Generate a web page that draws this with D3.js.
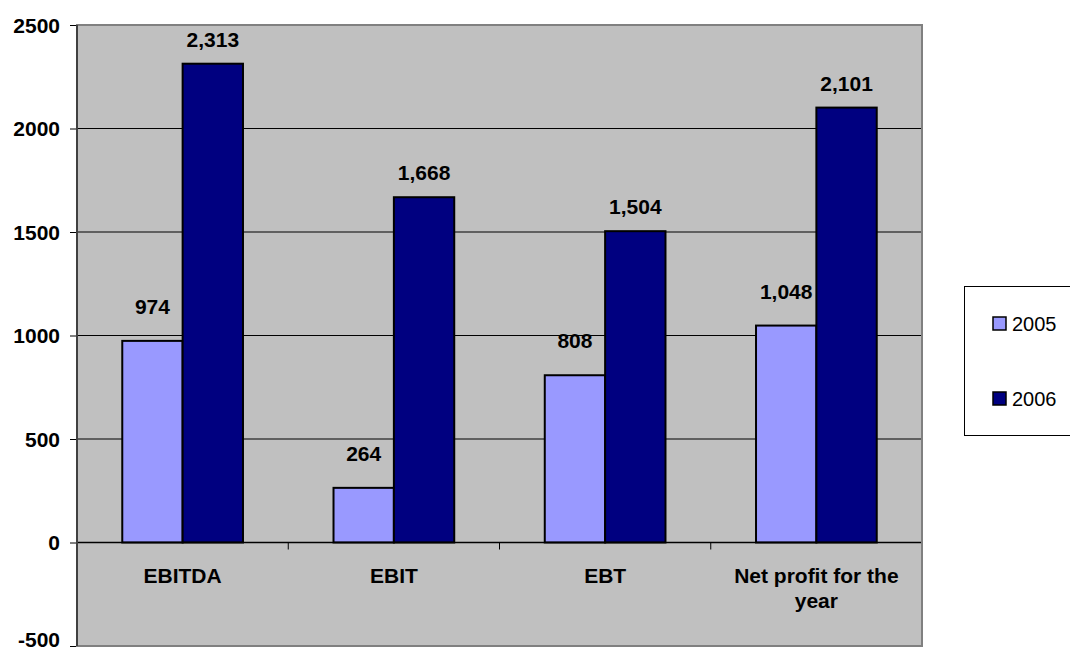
<!DOCTYPE html>
<html>
<head>
<meta charset="utf-8">
<script src="https://cdn.jsdelivr.net/npm/d3@7"></script>
<style>
  body { margin: 0; background: #fff; }
  text { font-family: Arial, "Liberation Sans", sans-serif; }
</style>
</head>
<body>
<svg id="chart"></svg>
<script>
// chart data
const categories = ["EBITDA", "EBIT", "EBT", "Net profit for the year"];
const series = ["2005", "2006"];
const values2005 = [974, 264, 808, 1048];
const values2006 = [2313, 1668, 1504, 2101];
const yTicks = [-500, 0, 500, 1000, 1500, 2000, 2500];

const width = 1070, height = 653;
const plot = { left: 77, top: 25, right: 922, bottom: 646 };
const colors = ["#9999FF", "#000080"];
const labelGap = [27, 17];

const svg = d3.select("#chart").attr("width", width).attr("height", height);

const x = d3.scaleBand().domain(categories).range([plot.left, plot.right]);
const y = d3.scaleLinear().domain([-500, 2500]).range([plot.bottom, plot.top]);
// gap width 150% like the spreadsheet
const barW = x.bandwidth() / 3.5;

svg.append("rect")
    .attr("x", plot.left).attr("y", plot.top)
    .attr("width", plot.right - plot.left).attr("height", plot.bottom - plot.top)
    .attr("fill", "#C0C0C0");

// gridlines
svg.append("g")
    .selectAll("line")
    .data(yTicks.filter(d => d > 0 && d < 2500)).enter()
    .append("line")
    .attr("x1", plot.left).attr("x2", plot.right)
    .attr("y1", d => y(d)).attr("y2", d => y(d))
    .attr("stroke", "#000").attr("stroke-width", 1);

// y axis
const yAxis = svg.append("g")
    .attr("transform", `translate(${plot.left},0)`)
    .call(d3.axisLeft(y).tickValues(yTicks).tickSize(7).tickPadding(10).tickFormat(d => String(d)));
yAxis.select(".domain").remove();
yAxis.selectAll("line").attr("stroke", "#000");
yAxis.selectAll("text")
    .attr("font-size", 21).attr("font-weight", "bold").attr("fill", "#000")
    .attr("font-family", "Arial, 'Liberation Sans', sans-serif")
    .attr("dy", d => d === -500 ? "0em" : "0.35em");

// bars
const data = categories.map((c, i) => ({ cat: c, vals: [values2005[i], values2006[i]] }));
const groups = svg.append("g").selectAll("g")
    .data(data).enter().append("g");

groups.selectAll("rect")
    .data(d => d.vals.map((v, j) => ({ cat: d.cat, v: v, j: j }))).enter()
    .append("rect")
    .attr("x", d => x(d.cat) + x.bandwidth() / 2 - barW + d.j * barW)
    .attr("y", d => y(d.v))
    .attr("width", barW)
    .attr("height", d => y(0) - y(d.v))
    .attr("fill", d => colors[d.j])
    .attr("stroke", "#000").attr("stroke-width", 2);

groups.selectAll("text")
    .data(d => d.vals.map((v, j) => ({ cat: d.cat, v: v, j: j }))).enter()
    .append("text")
    .attr("x", d => x(d.cat) + x.bandwidth() / 2 - barW / 2 + d.j * barW)
    .attr("y", d => y(d.v) - labelGap[d.j])
    .attr("text-anchor", "middle")
    .attr("font-size", 21).attr("font-weight", "bold")
    .text(d => d3.format(",")(d.v));

// zero line + category ticks
svg.append("line")
    .attr("x1", plot.left).attr("x2", plot.right)
    .attr("y1", y(0)).attr("y2", y(0))
    .attr("stroke", "#000").attr("stroke-width", 1.5);
svg.append("g").selectAll("line")
    .data(d3.range(categories.length + 1)).enter()
    .append("line")
    .attr("x1", i => plot.left + i * x.step()).attr("x2", i => plot.left + i * x.step())
    .attr("y1", y(0)).attr("y2", y(0) + 7)
    .attr("stroke", "#000");

// category labels
const catLines = { "Net profit for the year": ["Net profit for the", "year"] };
svg.append("g").selectAll("text")
    .data(categories).enter()
    .append("text")
    .attr("x", d => x(d) + x.bandwidth() / 2)
    .attr("y", y(0) + 40)
    .attr("text-anchor", "middle")
    .attr("font-size", 21).attr("font-weight", "bold")
    .each(function (d) {
        const lines = catLines[d] || [d];
        d3.select(this).selectAll("tspan").data(lines).enter()
            .append("tspan")
            .attr("x", x(d) + x.bandwidth() / 2)
            .attr("dy", (l, i) => i === 0 ? 0 : 25)
            .text(l => l);
    });

// plot border
svg.append("rect")
    .attr("x", plot.left).attr("y", plot.top)
    .attr("width", plot.right - plot.left).attr("height", plot.bottom - plot.top)
    .attr("fill", "none").attr("stroke", "#808080").attr("stroke-width", 2);
svg.append("line")
    .attr("x1", plot.left).attr("x2", plot.left)
    .attr("y1", plot.top).attr("y2", plot.bottom)
    .attr("stroke", "#000").attr("stroke-width", 1);

// legend
const legend = svg.append("g");
legend.append("rect")
    .attr("x", 964.5).attr("y", 286.5).attr("width", 120).attr("height", 149)
    .attr("fill", "#fff").attr("stroke", "#000");
const items = legend.selectAll("g")
    .data(series).enter().append("g")
    .attr("transform", (d, i) => `translate(993,${324 + i * 75})`);
items.append("rect")
    .attr("x", 0).attr("y", -7).attr("width", 13).attr("height", 13)
    .attr("fill", (d, i) => colors[i]).attr("stroke", "#000").attr("stroke-width", 1.5);
items.append("text")
    .attr("x", 19).attr("y", 7)
    .attr("font-size", 20)
    .text(d => d);
</script>
</body>
</html>
